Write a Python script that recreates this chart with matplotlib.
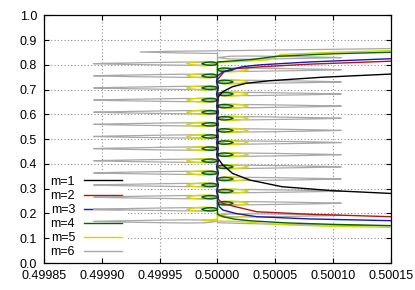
import matplotlib.pyplot as plt
from matplotlib.lines import Line2D

plt.rcParams['font.family'] = ['Liberation Sans', 'DejaVu Sans']
plt.rcParams['font.size'] = 9

# ---- data ----
labels = ['m=1', 'm=2', 'm=3', 'm=4', 'm=5', 'm=6']
colors = ['#000000', '#b01818', '#1818b0', '#006400', '#d6d600', '#a8a8a8']

xticks = [0.49985, 0.49990, 0.49995, 0.50000, 0.50005, 0.50010, 0.50015]
xtick_labels = ['0.49985', '0.49990', '0.49995', '0.50000', '0.50005', '0.50010', '0.50015']
yticks = [0.0, 0.1, 0.2, 0.3, 0.4, 0.5, 0.6, 0.7, 0.8, 0.9, 1.0]
ytick_labels = ['0.0', '0.1', '0.2', '0.3', '0.4', '0.5', '0.6', '0.7', '0.8', '0.9', '1.0']

# y of the loops that swing to the left / right of x = 0.5
lens_left_y = [0.168, 0.217, 0.266, 0.315, 0.364, 0.413, 0.462, 0.511, 0.560,
               0.609, 0.658, 0.707, 0.756, 0.805]
lens_right_y = [0.1925, 0.2415, 0.2905, 0.3395, 0.3885, 0.4375, 0.4865, 0.5355,
                0.5845, 0.6335, 0.6825, 0.7315, 0.7805, 0.8295]

# loop reach (distance of the tip from 0.5) for m=4,5,6
tip_m4 = 0.0000135
tip_m5 = 0.0000265
tip_m6 = 0.000107

# branches leaving the centre line
m1_bot_x = [0.50015, 0.50010, 0.500056, 0.500028, 0.500013, 0.5000046, 0.5]
m1_bot_y = [0.281, 0.292, 0.308, 0.335, 0.362, 0.396, 0.425]
m1_top_x = [0.5, 0.5000009, 0.5000046, 0.500013, 0.500025, 0.500045, 0.50009, 0.50015]
m1_top_y = [0.660, 0.672, 0.692, 0.712, 0.726, 0.736, 0.750, 0.763]

m2_bot_x = [0.50015, 0.50008, 0.500034, 0.500016, 0.5000044, 0.5]
m2_bot_y = [0.187, 0.197, 0.207, 0.227, 0.241, 0.261]
m2_top_x = [0.5, 0.5000056, 0.500016, 0.500036, 0.50008, 0.50015]
m2_top_y = [0.740, 0.772, 0.785, 0.792, 0.803, 0.815]

m3_bot_x = [0.50015, 0.50008, 0.500034, 0.500016, 0.5000047, 0.5000017, 0.5]
m3_bot_y = [0.171, 0.178, 0.187, 0.200, 0.214, 0.227, 0.250]
m3_top_x = [0.5, 0.5000047, 0.500012, 0.500022, 0.500036, 0.50008, 0.50015]
m3_top_y = [0.755, 0.772, 0.782, 0.793, 0.800, 0.812, 0.825]

m4_bot_x = [0.50015, 0.50010, 0.50006, 0.50003, 0.500015, 0.500005, 0.5]
m4_bot_y = [0.151, 0.156, 0.162, 0.170, 0.177, 0.187, 0.197]
m4_top_x = [0.5, 0.50001, 0.50003, 0.500052, 0.50010, 0.50015]
m4_top_y = [0.812, 0.815, 0.822, 0.835, 0.845, 0.851]

m5_bot_x = [0.50015, 0.50010, 0.50006, 0.50004, 0.500025, 0.50001, 0.499995, 0.499987, 0.499995, 0.5]
m5_bot_y = [0.144, 0.148, 0.154, 0.160, 0.166, 0.169, 0.170, 0.172, 0.175, 0.177]
m5_top_x = [0.5, 0.50002, 0.500045, 0.500055, 0.50010, 0.50015]
m5_top_y = [0.810, 0.814, 0.821, 0.842, 0.851, 0.858]

m6_bot_x = [0.50015, 0.50010, 0.50005, 0.50002, 0.5]
m6_bot_y = [0.150, 0.153, 0.157, 0.160, 0.163]
m6_top_x = [0.5, 0.49996, 0.499933, 0.49996, 0.5, 0.50005, 0.50010, 0.50015]
m6_top_y = [0.846, 0.849, 0.852, 0.855, 0.857, 0.860, 0.863, 0.866]

# ---- loop outline helpers ----
frac = [0, 0.1, 0.25, 0.45, 0.7, 0.88, 1.0]
round_shape = [0, 0.6, 0.92, 1.0, 0.8, 0.45, 0]
wedge_shape = [0, 0.85, 1.0, 0.8, 0.5, 0.25, 0]


def loop(yc, d, w, shape):
    xo = [0.5 + d * f for f in frac]
    yo = [yc - w * s for s in shape]
    yb = [yc + w * s for s in shape]
    return xo + xo[-2::-1], yo + yb[-2::-1]


def looped_curve(bx, by, left, right, tip, w, shape, tx, ty):
    xs, ys = list(bx), list(by)
    items = sorted([(y, -1) for y in left] + [(y, 1) for y in right])
    for yc, side in items:
        lx, ly = loop(yc, side * tip, w, shape)
        xs += lx
        ys += ly
    return xs + list(tx), ys + list(ty)


def wiggly_curve(bx, by, tx, ty, amp):
    lo, hi = by[-1], ty[0]
    items = sorted([(y, -1) for y in lens_left_y] + [(y, 1) for y in lens_right_y])
    mx = [0.5 + s * amp for y, s in items if lo < y < hi]
    my = [y for y, s in items if lo < y < hi]
    return list(bx) + mx + list(tx), list(by) + my + list(ty)


fig = plt.figure(figsize=(4.15, 2.9), dpi=100)
ax = fig.add_axes([0.106, 0.093, 0.836, 0.854])

for v in xticks[1:-1]:
    ax.axvline(v, color='#909090', lw=0.8, ls=(0, (1, 2)), zorder=1)
for v in yticks[1:-1]:
    ax.axhline(v, color='#909090', lw=0.8, ls=(0, (1, 2)), zorder=1)

x6, y6 = looped_curve(m6_bot_x, m6_bot_y, lens_left_y, lens_right_y, tip_m6, 0.0065,
                      wedge_shape, m6_top_x, m6_top_y)
x5, y5 = looped_curve(m5_bot_x, m5_bot_y, lens_left_y[1:], lens_right_y[:-1], tip_m5, 0.0085,
                      round_shape, m5_top_x, m5_top_y)
x4, y4 = looped_curve(m4_bot_x, m4_bot_y, lens_left_y[1:], lens_right_y[1:-1], tip_m4, 0.0068,
                      round_shape, m4_top_x, m4_top_y)
x1, y1 = wiggly_curve(m1_bot_x, m1_bot_y, m1_top_x, m1_top_y, 0.0000005)
x2, y2 = wiggly_curve(m2_bot_x, m2_bot_y, m2_top_x, m2_top_y, -0.0000004)
x3, y3 = wiggly_curve(m3_bot_x, m3_bot_y, m3_top_x, m3_top_y, -0.0000008)

ax.plot(x6, y6, color=colors[5], lw=0.9, zorder=3)
ax.plot(x5, y5, color=colors[4], lw=1.0, zorder=4)
ax.plot(x4, y4, color=colors[3], lw=1.0, zorder=5)
ax.plot(x1, y1, color=colors[0], lw=1.0, zorder=6)
ax.plot(x2, y2, color=colors[1], lw=1.0, zorder=7)
ax.plot(x3, y3, color=colors[2], lw=1.0, zorder=8)

ax.set_xlim(xticks[0], xticks[-1])
ax.set_ylim(0, 1)
ax.set_xticks(xticks)
ax.set_xticklabels(xtick_labels)
ax.set_yticks(yticks)
ax.set_yticklabels(ytick_labels)
ax.set_axisbelow(False)
ax.tick_params(direction='in', length=3.6, width=0.8, top=True, right=True, pad=5,
               labelsize=9)
for s in ax.spines.values():
    s.set_linewidth(0.9)

handles = [Line2D([], [], color=c, lw=1.0) for c in colors]
leg = ax.legend(handles, labels, loc='lower left', bbox_to_anchor=(0.003, -0.004),
                markerfirst=False, frameon=True, fancybox=False, edgecolor='none',
                facecolor='white', framealpha=1, borderpad=0.45, handlelength=3.05,
                handletextpad=0.7, labelspacing=0.17, fontsize=9, borderaxespad=0)
leg.set_zorder(2)

fig.savefig('out.png', dpi=100)
